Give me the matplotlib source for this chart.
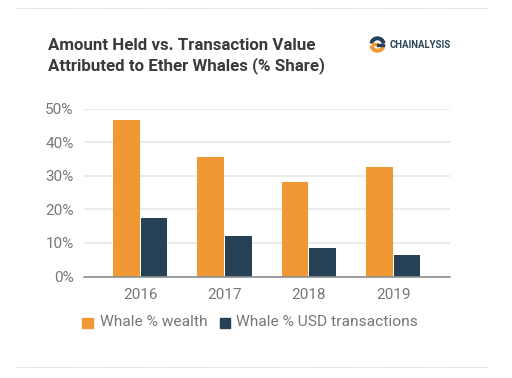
import matplotlib
matplotlib.use('Agg')
import matplotlib.pyplot as plt
from matplotlib.patches import Wedge, Rectangle
from matplotlib.lines import Line2D

years = ['2016', '2017', '2018', '2019']
wealth = [46.5, 35.5, 28.0, 32.5]
usd_tx = [17.5, 12.0, 8.5, 6.5]
yticks = [0, 10, 20, 30, 40, 50]
title_lines = ['Amount Held vs. Transaction Value', 'Attributed to Ether Whales (% Share)']
series_names = ['Whale % wealth', 'Whale % USD transactions']
ORANGE, NAVY = '#F09833', '#264155'

W, H = 512, 378
plt.rcParams['font.family'] = ['Roboto', 'DejaVu Sans']
fig = plt.figure(figsize=(W/100, H/100), dpi=100, facecolor='white')
ax = fig.add_axes([84/W, 1-276.5/H, 366/W, 168/H])
ax.set_ylim(0, 50)
ax.set_xlim(-0.664, 3.673)
bw = 0.315
for i in range(len(years)):
    ax.bar(i-bw/2-0.006, wealth[i], bw, color=ORANGE, zorder=3)
    ax.bar(i+bw/2+0.006, usd_tx[i], bw, color=NAVY, zorder=3)
ax.set_xticks(range(len(years)), years)
ax.set_yticks(yticks, [f'{v}%' for v in yticks])
ax.grid(axis='y', color='#E6E6E6', lw=1.1, zorder=0)
ax.set_axisbelow(True)
for s in ['top', 'left', 'right']:
    ax.spines[s].set_visible(False)
ax.spines['bottom'].set_color('#8E8E8E')
ax.spines['bottom'].set_linewidth(1.2)
ax.spines['bottom'].set_zorder(5)
ax.tick_params(axis='both', length=0, labelsize=11, labelcolor='#777777')
ax.tick_params(axis='y', pad=7.5)
ax.tick_params(axis='x', pad=8)

def fx(x): return x/W
def fy(y): return 1-y/H

for y in (7.5, 366.5):
    fig.add_artist(Line2D([fx(16), fx(488)], [fy(y), fy(y)], color='#CFCFCF', lw=0.7, ls=(0, (1, 1))))

for txt, y in zip(title_lines, (45.5, 66)):
    fig.text(fx(48), fy(y), txt, fontsize=12.18, fontweight='bold', color='#3A3A3A', va='center', ha='left')

# legend
for x, c, name, tx in ((82, ORANGE, series_names[0], 99.5), (219.5, NAVY, series_names[1], 236.5)):
    fig.add_artist(Rectangle((fx(x), fy(328)), 10.5/W, 10.5/H, transform=fig.transFigure, color=c))
    fig.text(fx(tx), fy(322.5), name, fontsize=11.15, color='#777777', va='center', ha='left')

# logo
lax = fig.add_axes([0, 0, 1, 1], facecolor='none')
lax.set_xlim(0, W); lax.set_ylim(H, 0); lax.axis('off')
cx, cy = 377.5, 44.5
lax.add_patch(Wedge((cx, cy), 7.5, 195, 345, width=2.6, color=NAVY))
lax.add_patch(Wedge((cx, cy), 7.5, 15, 165, width=2.6, color=ORANGE))
lax.add_patch(Rectangle((cx-6, cy-1.9), 6.5, 2.0, color=ORANGE))
lax.add_patch(Rectangle((cx-0.5, cy-0.1), 6.5, 2.0, color=NAVY))
fig.text(fx(389.5), fy(44.8), 'CHAINALYSIS', fontsize=6.9, fontweight='bold', color='#2F4658', va='center', ha='left')

fig.savefig('out.png', dpi=100, facecolor='white')
